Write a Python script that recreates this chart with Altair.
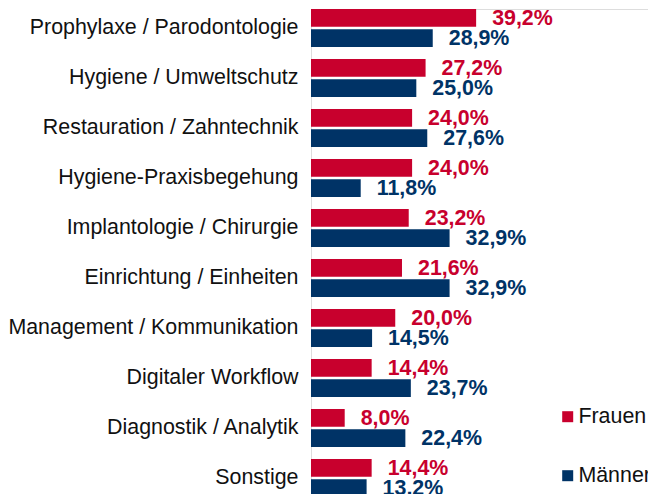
import altair as alt
import pandas as pd

categories = [
    "Prophylaxe / Parodontologie",
    "Hygiene / Umweltschutz",
    "Restauration / Zahntechnik",
    "Hygiene-Praxisbegehung",
    "Implantologie / Chirurgie",
    "Einrichtung / Einheiten",
    "Management / Kommunikation",
    "Digitaler Workflow",
    "Diagnostik / Analytik",
    "Sonstige",
]
frauen = [39.2, 27.2, 24.0, 24.0, 23.2, 21.6, 20.0, 14.4, 8.0, 14.4]
maenner = [28.9, 25.0, 27.6, 11.8, 32.9, 32.9, 14.5, 23.7, 22.4, 13.2]
series = ["Frauen", "Männer"]
colors = ["#C8002D", "#003366"]

rows = []
for c, f, m in zip(categories, frauen, maenner):
    rows.append({"cat": c, "series": series[0], "v": f})
    rows.append({"cat": c, "series": series[1], "v": m})
df = pd.DataFrame(rows)

FONT = "Liberation Sans"

y = alt.Y(
    "cat:N",
    sort=categories,
    scale=alt.Scale(range=[0, 488], paddingInner=0.24, paddingOuter=0),
    axis=alt.Axis(
        title=None, ticks=False, domain=False, grid=False,
        labelFontSize=21.4, labelFont=FONT, labelColor="#111111",
        labelPadding=13, labelLimit=400,
    ),
)
yoff = alt.YOffset("series:N", sort=series, scale=alt.Scale(paddingInner=0.13, paddingOuter=0))
x = alt.X("v:Q", scale=alt.Scale(domain=[0, 80]), axis=None)
color = alt.Color(
    "series:N",
    sort=series,
    scale=alt.Scale(domain=series, range=colors),
    legend=alt.Legend(
        title=None, orient="none", legendX=246, legendY=397,
        symbolType="square", symbolSize=121, symbolStrokeWidth=0,
        labelFontSize=21.4, labelFont=FONT, labelColor="#111111",
        labelOffset=0, rowPadding=36, padding=0,
    ),
)

base = alt.Chart(df)
bars = base.mark_bar(clip=True).encode(x=x, y=y, yOffset=yoff, color=color)
labels = base.mark_text(
    clip=True, align="left", baseline="middle", dx=16, dy=1,
    fontSize=21.4, fontWeight="bold", font=FONT,
).transform_calculate(
    lab="replace(format(datum.v, '.1f'), '.', ',') + '%'"
).encode(x=x, y=y, yOffset=yoff, color=alt.Color("series:N", sort=series, scale=alt.Scale(domain=series, range=colors)), text="lab:N")

chart = alt.layer(bars, labels).properties(
    width=337, height=485,
    autosize=alt.AutoSizeParams(type="none"),
    padding={"left": 311, "top": 9, "right": 0, "bottom": 0},
).configure_view(stroke=None).configure(background="white")

chart.save("out.html", embed_options={"renderer": "svg", "actions": False})
